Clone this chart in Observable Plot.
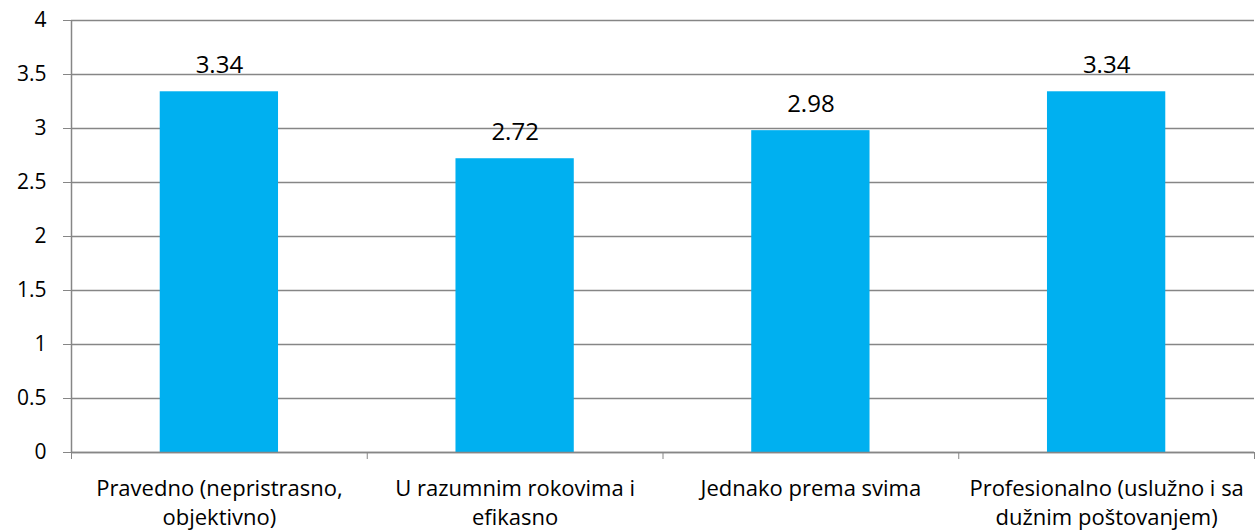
<!DOCTYPE html>
<html>
<head>
<meta charset="utf-8">
<script src="https://cdn.jsdelivr.net/npm/d3@7"></script>
<script src="https://cdn.jsdelivr.net/npm/@observablehq/plot@0.6"></script>
<style>
  html, body { margin: 0; padding: 0; background: #fff; }
  #chart svg { display: block; overflow: visible; }
  #chart [aria-label*="axis"] line, #chart [aria-label*="axis"] path { stroke: #868686; }
</style>
</head>
<body>
<div id="chart"></div>
<script>
const categories = [
  "Pravedno (nepristrasno,\nobjektivno)",
  "U razumnim rokovima i\nefikasno",
  "Jednako prema svima",
  "Profesionalno (uslužno i sa\ndužnim poštovanjem)"
];
const values = [3.34, 2.72, 2.98, 3.34];
const valueLabels = ["3.34", "2.72", "2.98", "3.34"];
const yTicks = [0, 0.5, 1, 1.5, 2, 2.5, 3, 3.5, 4];
const yTickLabels = ["0", "0.5", "1", "1.5", "2", "2.5", "3", "3.5", "4"];

const data = categories.map((c, i) => ({c, i, v: values[i], label: valueLabels[i]}));
const boundaries = d3.range(categories.length + 1);

const FONT = "'Open Sans', Lato, sans-serif";
const grid = "#868686";

const chart = Plot.plot({
  width: 1255,
  height: 532,
  marginLeft: 71,
  marginRight: 1,
  marginTop: 20,
  marginBottom: 80,
  style: {fontFamily: FONT, fontSize: "21px", color: "#000", background: "#fff", overflow: "visible"},
  x: {
    type: "linear",
    domain: [0, categories.length],
    ticks: boundaries,
    tickFormat: () => "",
    tickSize: 7,
    label: null
  },
  y: {
    domain: [0, 4],
    ticks: yTicks,
    tickFormat: (d) => yTickLabels[yTicks.indexOf(d)],
    tickSize: 8,
    tickPadding: 17,
    label: null
  },
  marks: [
    Plot.ruleY(yTicks, {stroke: grid, strokeWidth: 1.5}),
    Plot.ruleX([0], {y1: 0, y2: 4, stroke: grid, strokeWidth: 1.5}),
    Plot.rectY(data, {x1: d => d.i + 0.3, x2: d => d.i + 0.7, y: "v", fill: "#00B0F0"}),
    Plot.ruleY([0], {stroke: grid, strokeWidth: 1.5}),
    Plot.text(data, {x: d => d.i + 0.5, y: "v", text: "label", dy: -26, fontSize: 24, fill: "#000"}),
    Plot.text(data, {x: d => d.i + 0.5, y: 0, text: "c", dy: 23, lineAnchor: "top", lineHeight: 1.32, fontSize: 22, fill: "#000"})
  ]
});
document.getElementById("chart").appendChild(chart);
</script>
</body>
</html>
